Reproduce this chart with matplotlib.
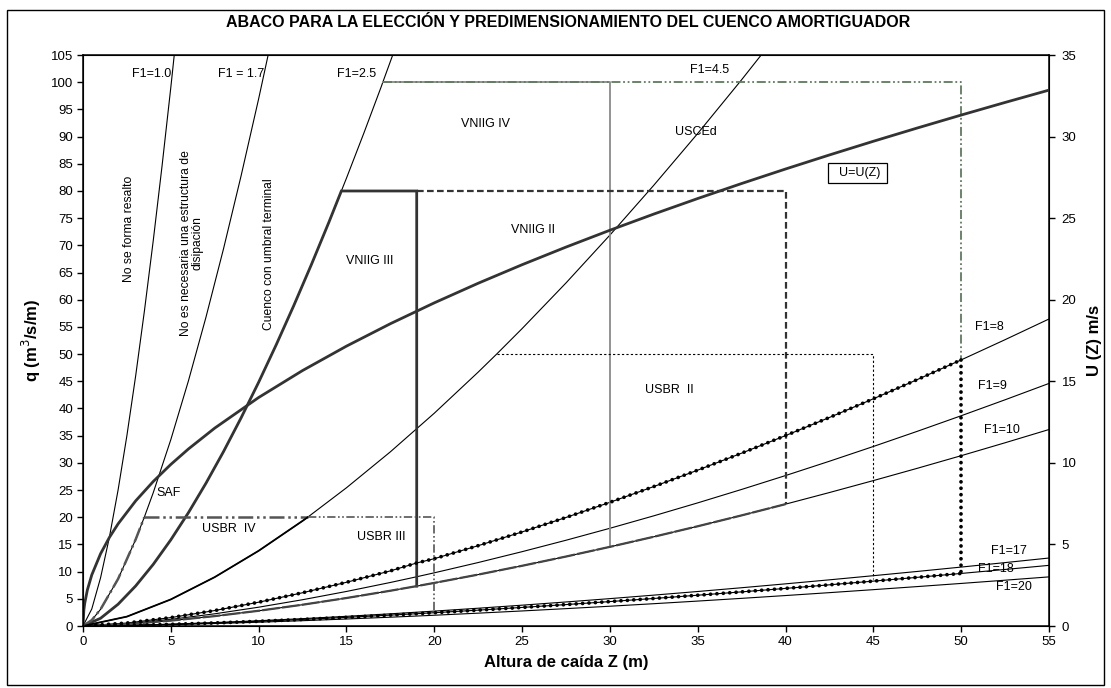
import numpy as np
import matplotlib
matplotlib.use("Agg")
import matplotlib.pyplot as plt
from matplotlib.patches import Rectangle

plt.rcParams['font.family'] = ['Liberation Sans', 'DejaVu Sans']

# ---- Froude-number curves q(Z) [m3/s/m] ----
z_f10 = [0, 0.5, 1, 1.5, 2, 2.5, 3, 3.5, 4, 4.5, 5, 5.5]
q_f10 = [0, 3.13, 8.86, 16.27, 25.05, 35.02, 46.03, 58.01, 70.87, 84.57, 99.04, 114.3]

z_f17 = [0, 0.5, 1, 2, 3, 3.49, 4, 5, 6, 7, 8, 9, 10, 11]
q_f17 = [0, 1.08, 3.07, 8.67, 15.93, 20.0, 24.52, 34.27, 45.05, 56.77, 69.36, 82.77, 96.94, 111.84]

z_f25 = [0, 1, 2, 3, 4, 5, 6, 7, 8, 9, 10, 11, 12, 13, 14, 14.71, 15, 16, 17, 17.07, 18]
q_f25 = [0, 1.42, 4.01, 7.37, 11.34, 15.85, 20.83, 26.25, 32.07, 38.27, 44.82, 51.71,
         58.92, 66.44, 74.25, 80.0, 82.35, 90.72, 99.35, 100.0, 108.25]

z_f45 = [0, 2.5, 5, 7.5, 10, 12.5, 12.79, 15, 17.5, 20, 22.5, 23.55, 25, 27.5, 30,
         32.5, 35, 37.5, 40]
q_f45 = [0, 1.73, 4.89, 8.99, 13.83, 19.33, 20.0, 25.42, 32.03, 39.13, 46.69, 50.0,
         54.69, 63.09, 71.89, 81.06, 90.58, 100.46, 110.67]

z_lo = [0, 2.5, 5, 7.5, 10, 12.5, 15, 17.5, 19, 20, 22.5, 25, 27.5, 30, 32.5, 35,
        37.5, 40, 42.5, 45, 47.5, 50, 52.5, 55]
q_f8 = [0, 0.547, 1.548, 2.843, 4.377, 6.117, 8.042, 10.134, 11.594, 12.381, 14.774,
        17.303, 19.962, 22.746, 25.647, 28.662, 31.787, 35.018, 38.353, 41.786,
        45.316, 48.939, 52.656, 56.461]
q_f9 = [0, 0.432, 1.223, 2.246, 3.459, 4.834, 6.354, 8.007, 9.058, 9.782, 11.673,
        13.671, 15.772, 17.972, 20.264, 22.646, 25.116, 27.668, 30.303, 33.016,
        35.804, 38.668, 41.604, 44.611]
q_f10b = [0, 0.350, 0.990, 1.820, 2.801, 3.915, 5.147, 6.486, 7.337, 7.924, 9.455,
          11.074, 12.776, 14.557, 16.414, 18.343, 20.344, 22.411, 24.546, 26.743,
          29.002, 31.321, 33.700, 36.135]
q_f17b = [0, 0.121, 0.343, 0.630, 0.969, 1.355, 1.781, 2.244, 2.539, 2.742, 3.272,
          3.832, 4.421, 5.037, 5.680, 6.347, 7.039, 7.755, 8.493, 9.253, 10.035,
          10.838, 11.661, 12.503]
q_f18 = [0, 0.108, 0.306, 0.562, 0.865, 1.208, 1.589, 2.002, 2.264, 2.446, 2.918,
         3.418, 3.943, 4.493, 5.066, 5.662, 6.279, 6.917, 7.576, 8.254, 8.951,
         9.667, 10.401, 11.153]
q_f20 = [0, 0.088, 0.248, 0.455, 0.700, 0.979, 1.287, 1.621, 1.834, 1.981, 2.364,
         2.769, 3.194, 3.639, 4.104, 4.586, 5.086, 5.603, 6.136, 6.686, 7.251,
         7.830, 8.425, 9.034]

# ---- Velocity U(Z) [m/s], right axis ----
z_u = [0, 0.05, 0.1, 0.25, 0.5, 1, 1.5, 2, 3, 4, 5, 6, 7.5, 10, 12.5, 15, 17.5, 20,
       22.5, 25, 27.5, 30, 32.5, 35, 37.5, 40, 42.5, 45, 47.5, 50, 52.5, 55]
u_z = [0, 0.990, 1.401, 2.215, 3.132, 4.429, 5.425, 6.264, 7.672, 8.859, 9.905,
       10.850, 12.131, 14.007, 15.660, 17.155, 18.530, 19.809, 21.011, 22.147,
       23.228, 24.261, 25.252, 26.205, 27.125, 28.014, 28.876, 29.714, 30.527,
       31.321, 32.094, 32.850]

# ---- Basin limits ----
vniig_q_top = 80.0
vniig3_z = 19.0
vniig2_z = 40.0
vniig4_q = 100.0
vniig4_z = 30.0
usced_z = 50.0
usbr2_q = 50.0
usbr2_z = 45.0
usbr2_q_bottom = 8.6
usbr34_q = 20.0
usbr3_z = 20.0

fig = plt.figure(figsize=(11.11, 6.88), dpi=100)
ax = fig.add_axes([0.0747, 0.0901, 0.8695, 0.8299])
ax.set_xlim(0, 55)
ax.set_ylim(0, 105)


def upto(zs, qs, zmax):
    zz = [z for z in zs if z <= zmax + 1e-9]
    return zz, qs[:len(zz)]


thin = dict(color='black', lw=0.8)
ax.plot(z_f10, q_f10, **thin)
ax.plot(z_f17, q_f17, **thin)
ax.plot(z_f25, q_f25, **thin)
ax.plot(z_f45, q_f45, **thin)
ax.plot(z_lo, q_f8, **thin)
ax.plot(z_lo, q_f9, **thin)
ax.plot(z_lo, q_f10b, **thin)
ax.plot(z_lo, q_f17b, **thin)
ax.plot(z_lo, q_f18, **thin)
ax.plot(z_lo, q_f20, **thin)

# VNIIG IV (grey solid)
ax.plot([z_f25[19], vniig4_z, vniig4_z], [vniig4_q, vniig4_q, q_f10b[13]],
        color='#8a8a8a', lw=1.3)

# USCEd (grey-green dash-dot-dot)
ax.plot([z_f25[19], usced_z, usced_z], [vniig4_q, vniig4_q, q_f8[21]],
        color='#5f7a5f', lw=1.3, dashes=(5, 1.5, 1, 1.5, 1, 1.5))

# VNIIG III (thick solid)
zl, ql = upto(z_f25, q_f25, 14.71)
ax.plot(zl + [vniig3_z, vniig3_z], ql + [vniig_q_top, q_f10b[8]],
        color='#333333', lw=2.0, solid_joinstyle='miter')

# VNIIG II (dashed)
ax.plot([vniig3_z, vniig2_z, vniig2_z], [vniig_q_top, vniig_q_top, q_f10b[17]],
        color='#333333', lw=1.6, dashes=(3, 1.5))
zb, qb = upto(z_lo, q_f10b, vniig2_z)
ax.plot(zb, qb, color='#444444', lw=1.6, dashes=(8, 1))

# USBR II (fine dashed)
ax.plot([z_f45[11], usbr2_z, usbr2_z], [usbr2_q, usbr2_q, usbr2_q_bottom],
        color='black', lw=0.8, dashes=(2, 2))

# Dotted band between F1=8 and F1=18 up to Z=50
zd, q8d = upto(z_lo, q_f8, usced_z)
_, q18d = upto(z_lo, q_f18, usced_z)
dot = dict(color='black', lw=2.7, dashes=(0.01, 1.7), dash_capstyle='round')
ax.plot(zd, q8d, **dot)
ax.plot(zd, q18d, **dot)
ax.plot([usced_z, usced_z], [q_f8[21], q_f18[21]], **dot)

# USBR IV and USBR III
zl4, ql4 = upto(z_f17, q_f17, 3.49)
ax.plot(zl4, ql4, color='#555555', lw=1.8, dashes=(6, 1.5, 1, 1.5))
ax.plot([3.49, z_f45[6]], [usbr34_q, usbr34_q], color='#555555', lw=1.8,
        dashes=(6, 1.5, 1, 1.5, 1, 1.5))
zl3, ql3 = upto(z_f45, q_f45, 12.79)
ax.plot(zl3, ql3, color='black', lw=1.3)
ax.plot([z_f45[6], usbr3_z, usbr3_z], [usbr34_q, usbr34_q, q_f18[9]],
        color='#555555', lw=1.2, dashes=(5, 1.5, 1, 1.5, 1, 1.5))

ax.set_xticks(np.arange(0, 56, 5))
ax.set_yticks(np.arange(0, 106, 5))
ax.tick_params(direction='out', length=4, width=1, labelsize=9.5, pad=3)
for s in ax.spines.values():
    s.set_linewidth(1.1)

ax.set_xlabel('Altura de caída Z (m)', fontsize=12, fontweight='bold', labelpad=5)
ax.set_ylabel('q (m$^3$/s/m)', fontsize=12, fontweight='bold', labelpad=6)

# Right axis: U(Z)
ax2 = ax.twinx()
ax2.set_ylim(0, 35)
ax2.set_yticks(np.arange(0, 36, 5))
ax2.tick_params(direction='out', length=4, width=1, labelsize=9.5, pad=5)
ax2.plot(z_u, u_z, color='#333333', lw=2.0)
ax2.set_ylabel('U (Z) m/s', fontsize=12, fontweight='bold', labelpad=8)

# Annotations
fs = 9
labels = [
    (3.9, 101.6, 'F1=1.0'), (9.0, 101.6, 'F1 = 1.7'), (15.6, 101.6, 'F1=2.5'),
    (35.7, 102.2, 'F1=4.5'), (22.9, 92.4, 'VNIIG IV'), (34.9, 90.8, 'USCEd'),
    (25.6, 72.8, 'VNIIG II'), (16.3, 67.1, 'VNIIG III'),
    (51.6, 55.0, 'F1=8'), (51.8, 44.1, 'F1=9'), (52.3, 36.0, 'F1=10'),
    (52.7, 13.8, 'F1=17'), (52.0, 10.5, 'F1=18'), (53.0, 7.2, 'F1=20'),
    (33.4, 43.4, 'USBR  II'), (4.9, 24.4, 'SAF'), (8.3, 17.8, 'USBR  IV'),
    (17.0, 16.4, 'USBR III'),
]
for x, y, t in labels:
    ax.text(x, y, t, fontsize=fs, ha='center', va='center', zorder=5)

ax.text(44.1, 83.3, '  U=U(Z) ', fontsize=fs, ha='center', va='center',
        bbox=dict(boxstyle='square,pad=0.3', fc='white', ec='black', lw=0.9))

ax.text(2.6, 73, 'No se forma resalto', fontsize=8.7, rotation=90,
        ha='center', va='center')
ax.text(6.2, 70.5, 'No es necesaria una estructura de\ndisipación', fontsize=8.7,
        rotation=90, ha='center', va='center', linespacing=1.0)
ax.text(10.6, 68.4, 'Cuenco con umbral terminal', fontsize=8.7, rotation=90,
        ha='center', va='center')

fig.text(0.511, 0.967, 'ABACO PARA LA ELECCIÓN Y PREDIMENSIONAMIENTO DEL CUENCO AMORTIGUADOR',
         fontsize=11.5, fontweight='bold', ha='center', va='center')

# Outer frame
fig.patches.append(Rectangle((7 / 1111, 3 / 688), 1097 / 1111, 675 / 688,
                             transform=fig.transFigure, fill=False,
                             ec='black', lw=1.0))

fig.savefig('out.png', dpi=100)
